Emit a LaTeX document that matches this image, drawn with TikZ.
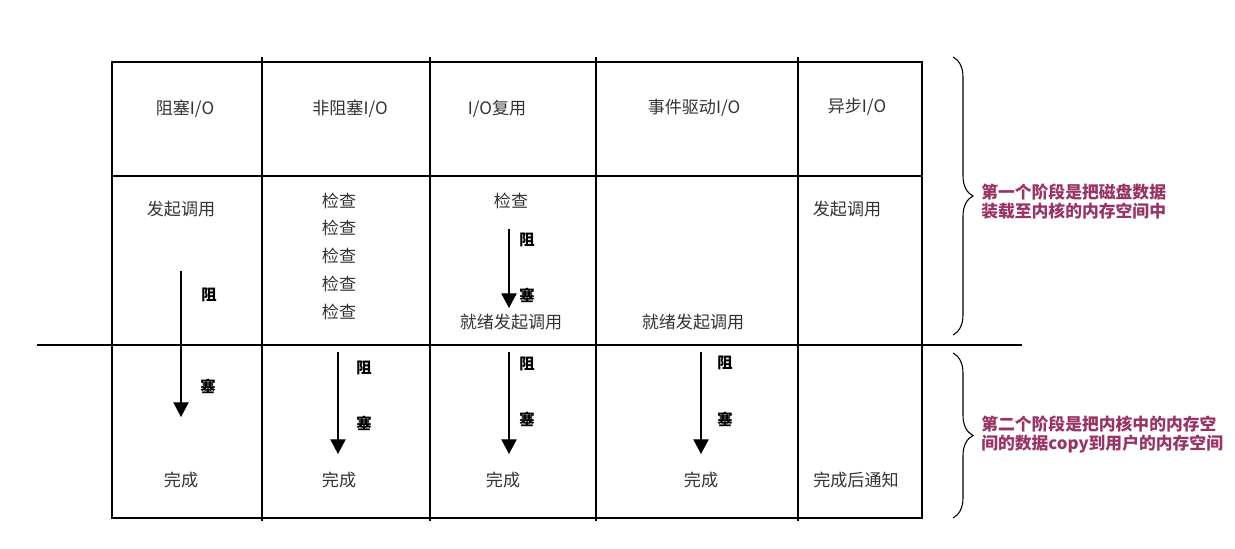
\documentclass[tikz,border=0pt]{standalone}
\usepackage{fontspec}
\setmainfont{Noto Sans CJK SC}
\usetikzlibrary{arrows.meta,decorations.pathreplacing}
\definecolor{stagepurple}{RGB}{153,51,102}
\definecolor{cellgray}{RGB}{51,51,51}

\begin{document}
\begin{tikzpicture}[x=0.75pt,y=-0.75pt,
  grid/.style={line width=0.8pt},
  celltext/.style={text=cellgray,font=\fontsize{12.8}{15}\selectfont,inner sep=0pt},
  tag/.style={font=\fontsize{11.5}{13}\selectfont\bfseries,inner sep=0pt},
  stage/.style={text=stagepurple,font=\fontsize{12.6}{14.25}\selectfont\bfseries,
    align=left,anchor=west,inner sep=0pt},
  blocking/.style={line width=0.8pt,-{Triangle[width=11.5pt,length=11pt]}},
  phase/.style={line width=0.8pt,decorate,decoration={brace,amplitude=15pt}}]
\useasboundingbox (0,0) rectangle (1235,549);

% Table frame
\draw[grid] (112,62) rectangle (922,518);
\draw[grid] (112,176) -- (922,176);
\draw[grid] (37,345) -- (1022,345);
\foreach \x in {262,430,596,798}
  \draw[grid] (\x,57) -- (\x,521);

% Header row
\node[celltext] (h1) at (185,109) {阻塞I/O};
\node[celltext] (h2) at (350,109) {非阻塞I/O};
\node[celltext] (h3) at (497,109) {I/O复用};
\node[celltext] (h4) at (694,108) {事件驱动I/O};
\node[celltext] (h5) at (857,107) {异步I/O};

% First stage: waiting for data
\node[celltext] (call1) at (181,209) {发起调用};
\foreach \i/\y in {1/201,2/228,3/256,4/284,5/312}
  \node[celltext] (check\i) at (339,\y) {检查};
\node[celltext] (check6) at (511,201) {检查};
\node[celltext] (ready3) at (511,322) {就绪发起调用};
\node[celltext] (ready4) at (693,322) {就绪发起调用};
\node[celltext] (call5) at (847,209) {发起调用};

% Second stage: copying data
\node[celltext] (done1) at (181,480) {完成};
\node[celltext] (done2) at (339,480) {完成};
\node[celltext] (done3) at (503,480) {完成};
\node[celltext] (done4) at (701,480) {完成};
\node[celltext] (done5) at (856,480) {完成后通知};

% Blocking arrows
\coordinate (b1s) at (181,271);
\coordinate (b1e) at (181,417);
\draw[blocking] (b1s) -- (b1e);
\node[tag] (b1u) at (209,295) {阻};
\node[tag] (b1l) at (208,386) {塞};

\coordinate (b2s) at (338,352);
\coordinate (b2e) at (338,454);
\draw[blocking] (b2s) -- (b2e);
\node[tag] (b2u) at (364,368) {阻};
\node[tag] (b2l) at (364,423) {塞};

\coordinate (b3s) at (509,229);
\coordinate (b3e) at (509,308);
\draw[blocking] (b3s) -- (b3e);
\node[tag] (b3u) at (527,240) {阻};
\node[tag] (b3l) at (527,295) {塞};

\coordinate (b4s) at (509,352);
\coordinate (b4e) at (509,454);
\draw[blocking] (b4s) -- (b4e);
\node[tag] (b4u) at (527,364) {阻};
\node[tag] (b4l) at (527,419) {塞};

\coordinate (b5s) at (701,352);
\coordinate (b5e) at (701,454);
\draw[blocking] (b5s) -- (b5e);
\node[tag] (b5u) at (725,363) {阻};
\node[tag] (b5l) at (725,419) {塞};

% Stage braces
\coordinate (s1t) at (953,57);
\coordinate (s1b) at (953,335);
\draw[phase] (s1t) -- (s1b);
\node[stage] (stage1) at (981,202) {第一个阶段是把磁盘数据\\装载至内核的内存空间中};

\coordinate (s2t) at (953,353);
\coordinate (s2b) at (953,518);
\draw[phase] (s2t) -- (s2b);
\node[stage] (stage2) at (981,435) {第二个阶段是把内核中的内存空\\间的数据copy到用户的内存空间};

\end{tikzpicture}
\end{document}
